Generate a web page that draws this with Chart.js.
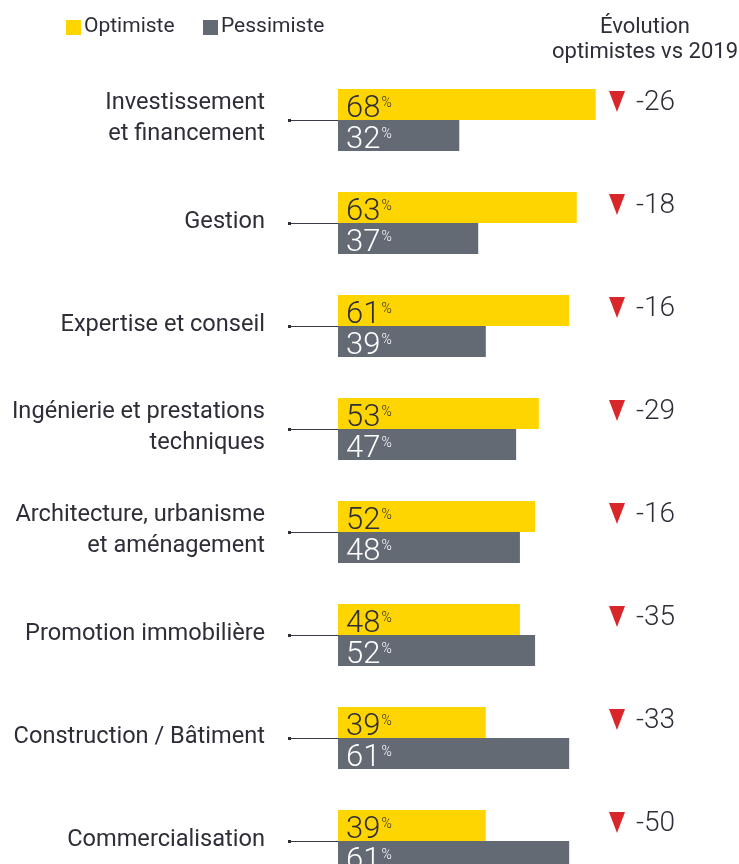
<!DOCTYPE html>
<html>
<head>
<meta charset="utf-8">
<script src="https://cdn.jsdelivr.net/npm/chart.js@4"></script>
<style>
  html, body { margin: 0; padding: 0; background: #fff; overflow: hidden; }
  canvas { display: block; }
</style>
</head>
<body>
<canvas id="c" width="739" height="900"></canvas>
<script>
const categories = [
  ['Investissement', 'et financement'],
  ['Gestion'],
  ['Expertise et conseil'],
  ['Ingénierie et prestations', 'techniques'],
  ['Architecture, urbanisme', 'et aménagement'],
  ['Promotion immobilière'],
  ['Construction / Bâtiment'],
  ['Commercialisation']
]
const optimiste = [68, 63, 61, 53, 52, 48, 39, 39]
const pessimiste = [32, 37, 39, 47, 48, 52, 61, 61]
const evolution = [-26, -18, -16, -29, -16, -35, -33, -50]
const seriesNames = ['Optimiste', 'Pessimiste']

const JAUNE = '#FFD500'
const GRIS = '#646A74'
const TEXTE = '#2E2E38'
const POLICE = 'Roboto, "Liberation Sans", sans-serif'

const habillage = {
  id: 'habillage',
  afterDatasetsDraw(chart) {
    const { ctx, scales: { y } } = chart
    ctx.save()

    // valeurs dans les barres
    chart.data.datasets.forEach((ds, i) => {
      const meta = chart.getDatasetMeta(i)
      meta.data.forEach((bar, j) => {
        const v = String(ds.data[j])
        const x = bar.base + 8
        ctx.fillStyle = i === 0 ? TEXTE : '#ffffff'
        ctx.textAlign = 'left'
        ctx.textBaseline = 'alphabetic'
        ctx.font = `300 31px ${POLICE}`
        ctx.fillText(v, x, bar.y + 12.5)
        const w = ctx.measureText(v).width
        ctx.font = `300 14px ${POLICE}`
        ctx.fillText('%', x + w + 1, bar.y + 2.5)
      })
    })

    // libellés, traits et évolution
    categories.forEach((lignes, j) => {
      const cy = y.getPixelForValue(j)
      ctx.fillStyle = TEXTE
      ctx.font = `23.6px ${POLICE}`
      ctx.textAlign = 'right'
      ctx.textBaseline = 'middle'
      const h = 31
      lignes.forEach((l, k) => {
        ctx.fillText(l, 265, cy - 1 + (k - (lignes.length - 1) / 2) * h)
      })

      ctx.strokeStyle = '#3a3a44'
      ctx.lineWidth = 1
      ctx.beginPath()
      ctx.moveTo(289, cy + 0.5)
      ctx.lineTo(chart.chartArea.left, cy + 0.5)
      ctx.stroke()
      ctx.fillStyle = '#2E2E38'
      ctx.fillRect(288, cy - 1, 3, 3)

      ctx.fillStyle = '#D9262A'
      ctx.beginPath()
      ctx.moveTo(609, cy - 29)
      ctx.lineTo(625, cy - 29)
      ctx.lineTo(617, cy - 8)
      ctx.closePath()
      ctx.fill()

      ctx.fillStyle = TEXTE
      ctx.font = `300 28px ${POLICE}`
      ctx.textAlign = 'left'
      ctx.textBaseline = 'middle'
      ctx.fillText(String(evolution[j]), 636, cy - 17)
    })

    // légende
    ctx.font = `21px ${POLICE}`
    ctx.textAlign = 'left'
    ctx.textBaseline = 'middle'
    const leg = [[66, JAUNE], [203, GRIS]]
    seriesNames.forEach((n, i) => {
      ctx.fillStyle = leg[i][1]
      ctx.fillRect(leg[i][0], 20, 15, 15)
      ctx.fillStyle = TEXTE
      ctx.fillText(n, leg[i][0] + 18, 27)
    })

    // en-tête évolution
    ctx.font = `22px ${POLICE}`
    ctx.textAlign = 'center'
    ctx.fillText('Évolution', 645, 27)
    ctx.fillText('optimistes vs 2019', 645, 52)

    ctx.restore()
  }
}

new Chart(document.getElementById('c'), {
  type: 'bar',
  data: {
    labels: categories,
    datasets: [
      { label: seriesNames[0], data: optimiste, backgroundColor: JAUNE },
      { label: seriesNames[1], data: pessimiste, backgroundColor: GRIS }
    ]
  },
  options: {
    indexAxis: 'y',
    responsive: false,
    animation: false,
    devicePixelRatio: 1,
    categoryPercentage: 0.6,
    barPercentage: 1.0,
    layout: { padding: { left: 338, right: 22, top: 68.5, bottom: 7.5 } },
    scales: {
      x: { display: false, min: 0, max: 100 },
      y: { display: false, grid: { display: false } }
    },
    plugins: {
      legend: { display: false },
      tooltip: { enabled: false }
    }
  },
  plugins: [habillage]
})
</script>
</body>
</html>
